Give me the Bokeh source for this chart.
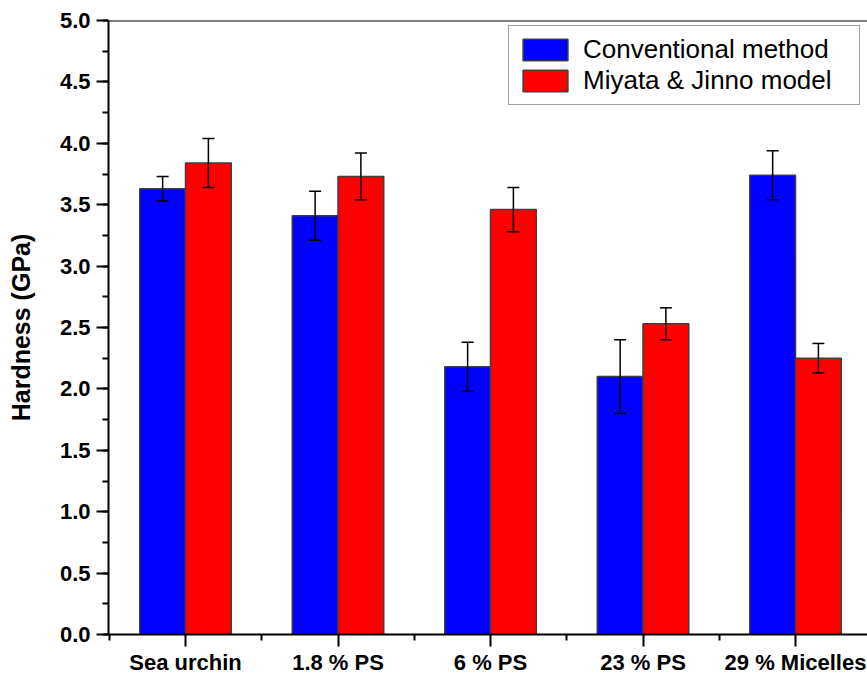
from bokeh.plotting import figure
from bokeh.models import (ColumnDataSource, Whisker, TeeHead, FixedTicker,
                          Span, Legend, LegendItem, PrintfTickFormatter)
from bokeh.embed import file_html
from bokeh.resources import INLINE

# Hardness measurements per sample
categories = ["Sea urchin", "1.8 % PS", "6 % PS", "23 % PS", "29 % Micelles"]
conventional = [3.63, 3.41, 2.18, 2.10, 3.74]
conventional_err = [0.10, 0.20, 0.20, 0.30, 0.20]
miyata_jinno = [3.84, 3.73, 3.46, 2.53, 2.25]
miyata_jinno_err = [0.20, 0.19, 0.18, 0.13, 0.12]

idx = list(range(1, len(categories) + 1))
bar_w = 0.3

src_conv = ColumnDataSource(dict(
    x=[i - bar_w / 2 for i in idx], top=conventional,
    upper=[v + e for v, e in zip(conventional, conventional_err)],
    lower=[v - e for v, e in zip(conventional, conventional_err)]))
src_mj = ColumnDataSource(dict(
    x=[i + bar_w / 2 for i in idx], top=miyata_jinno,
    upper=[v + e for v, e in zip(miyata_jinno, miyata_jinno_err)],
    lower=[v - e for v, e in zip(miyata_jinno, miyata_jinno_err)]))

p = figure(width=867, height=677, output_backend="svg", toolbar_location=None,
           x_range=(0.495, 5.472), y_range=(0, 5.0),
           min_border_left=108, min_border_right=0, min_border_top=20,
           min_border_bottom=42)
p.outline_line_color = None
p.grid.visible = False
p.background_fill_color = "white"
p.border_fill_color = "white"

r1 = p.vbar(x="x", top="top", width=bar_w, source=src_conv,
            fill_color="#0000ff", line_color="#3a3a4a", line_width=1.5)
r2 = p.vbar(x="x", top="top", width=bar_w, source=src_mj,
            fill_color="#ff0000", line_color="#4a3a3a", line_width=1.5)

# error bars on top of the bars
for src in (src_conv, src_mj):
    w = Whisker(base="x", upper="upper", lower="lower", source=src,
                line_color="black", line_width=1.5, level="overlay",
                upper_head=TeeHead(size=12, line_color="black", line_width=1.5),
                lower_head=TeeHead(size=12, line_color="black", line_width=1.5))
    p.add_layout(w)

# top frame line
p.add_layout(Span(location=5.0, dimension="width", line_color="black", line_width=2))

font = "Liberation Sans"

# x axis
p.xaxis.ticker = FixedTicker(ticks=idx, minor_ticks=[i + 0.5 for i in range(0, 6)])
p.xaxis.major_label_overrides = {i: c for i, c in zip(idx, categories)}
# y axis
p.yaxis.ticker = FixedTicker(ticks=[i * 0.5 for i in range(11)],
                             minor_ticks=[i * 0.25 for i in range(21)])
p.yaxis.formatter = PrintfTickFormatter(format="%.1f")
p.yaxis.axis_label = "Hardness (GPa)"
p.yaxis.axis_label_text_font = font
p.yaxis.axis_label_text_font_style = "bold"
p.yaxis.axis_label_text_font_size = "25px"
p.yaxis.axis_label_text_color = "black"
p.yaxis.axis_label_standoff = 22

for ax in (p.xaxis, p.yaxis):
    ax.axis_line_width = 2
    ax.axis_line_color = "black"
    ax.major_tick_line_width = 2
    ax.minor_tick_line_width = 2
    ax.major_tick_line_color = "black"
    ax.minor_tick_line_color = "black"
    ax.major_tick_in = 0
    ax.major_tick_out = 12
    ax.minor_tick_in = 0
    ax.minor_tick_out = 6
    ax.major_label_text_font = font
    ax.major_label_text_font_style = "bold"
    ax.major_label_text_font_size = "22px"
    ax.major_label_text_color = "black"
p.yaxis.major_label_standoff = 6
p.xaxis.major_label_standoff = 3

legend = Legend(items=[LegendItem(label="Conventional method", renderers=[r1]),
                       LegendItem(label="Miyata & Jinno model", renderers=[r2])],
                location=(400, 529))
legend.label_text_font = font
legend.label_text_font_size = "26px"
legend.label_text_line_height = 0.9
legend.label_text_color = "black"
legend.glyph_width = 56
legend.glyph_height = 27
legend.label_height = 27
legend.label_width = 268
legend.spacing = 0
legend.padding = 8
legend.margin = 0
legend.label_standoff = 10
legend.border_line_color = "#444444"
legend.border_line_width = 1.5
legend.background_fill_alpha = 1
p.add_layout(legend)

open("out.html", "w").write(file_html(p, INLINE))
